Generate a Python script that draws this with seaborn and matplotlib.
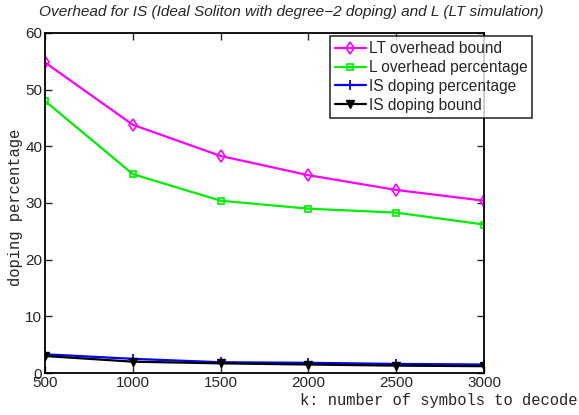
import matplotlib
matplotlib.use("Agg")
import matplotlib.pyplot as plt
import seaborn as sns
import pandas as pd

k_values = [500, 1000, 1500, 2000, 2500, 3000]
lt_overhead_bound = [54.8, 43.8, 38.3, 34.9, 32.3, 30.4]
l_overhead_pct = [48.0, 35.1, 30.4, 29.0, 28.3, 26.2]
is_doping_pct = [3.3, 2.5, 1.9, 1.8, 1.6, 1.5]
is_doping_bound = [3.0, 2.0, 1.7, 1.5, 1.3, 1.2]

series_names = ["LT overhead bound", "L overhead percentage",
                "IS doping percentage", "IS doping bound"]
series_values = [lt_overhead_bound, l_overhead_pct, is_doping_pct, is_doping_bound]
x_ticks = [500, 1000, 1500, 2000, 2500, 3000]
y_ticks = [0, 10, 20, 30, 40, 50, 60]

df = pd.DataFrame({
    "k": k_values * len(series_names),
    "value": [v for vals in series_values for v in vals],
    "series": [n for n in series_names for _ in k_values],
})

sns.set_style("white")
plt.rcParams["font.family"] = ["Liberation Sans", "DejaVu Sans"]

fig = plt.figure(figsize=(5.79, 4.15), dpi=100)
ax = fig.add_axes([0.0777, 0.1012, 0.836 - 0.0777, 0.9205 - 0.1012])

styles = {
    "LT overhead bound": dict(color="#FF00FF", marker="d", mfc="none", ms=6.5, mew=1.2),
    "L overhead percentage": dict(color="#00EE00", marker="s", mfc="none", ms=5, mew=1.2),
    "IS doping percentage": dict(color="#0000FF", marker="+", ms=6.5, mew=1.3),
    "IS doping bound": dict(color="black", marker="v", mfc="black", ms=5.5, mew=1),
}

for name in series_names:
    st = styles[name]
    sub = df[df["series"] == name]
    sns.lineplot(data=sub, x="k", y="value", ax=ax, label=name, lw=1.6,
                 color=st["color"], marker=st["marker"],
                 markerfacecolor=st.get("mfc", st["color"]),
                 markeredgecolor=st["color"], markersize=st["ms"],
                 markeredgewidth=st["mew"])

ax.set_xlim(500, 3000)
ax.set_ylim(0, 60)
ax.set_xticks(x_ticks)
ax.set_yticks(y_ticks)
ax.tick_params(direction="in", length=5, width=1, labelsize=11,
               top=True, right=True, bottom=True, left=True, pad=2)
for sp in ax.spines.values():
    sp.set_color("black")
    sp.set_linewidth(1.3)

ax.set_xlabel("")
ax.set_ylabel("")
fig.text(0.998, 0.035, "k: number of symbols to decode", ha="right", va="center",
         family="Liberation Mono", fontsize=11.2)
fig.text(0.026, 0.5, "doping percentage", rotation=90, ha="center", va="center",
         family="Liberation Mono", fontsize=11.2)
fig.text(0.503, 0.972, "Overhead for IS (Ideal Soliton with degree\u22122 doping) and L (LT simulation)",
         ha="center", va="center", style="italic", fontsize=11.1)

leg = ax.legend(loc="upper left", bbox_to_anchor=(330 / 579, 1 - 36.5 / 415),
                bbox_transform=fig.transFigure, frameon=True, fancybox=False,
                fontsize=11.2, handlelength=2.0, handletextpad=0.2,
                labelspacing=0.25, borderpad=0.3, borderaxespad=0)
leg.get_frame().set_edgecolor("black")
leg.get_frame().set_linewidth(1.2)

fig.savefig("out.png", dpi=100)
